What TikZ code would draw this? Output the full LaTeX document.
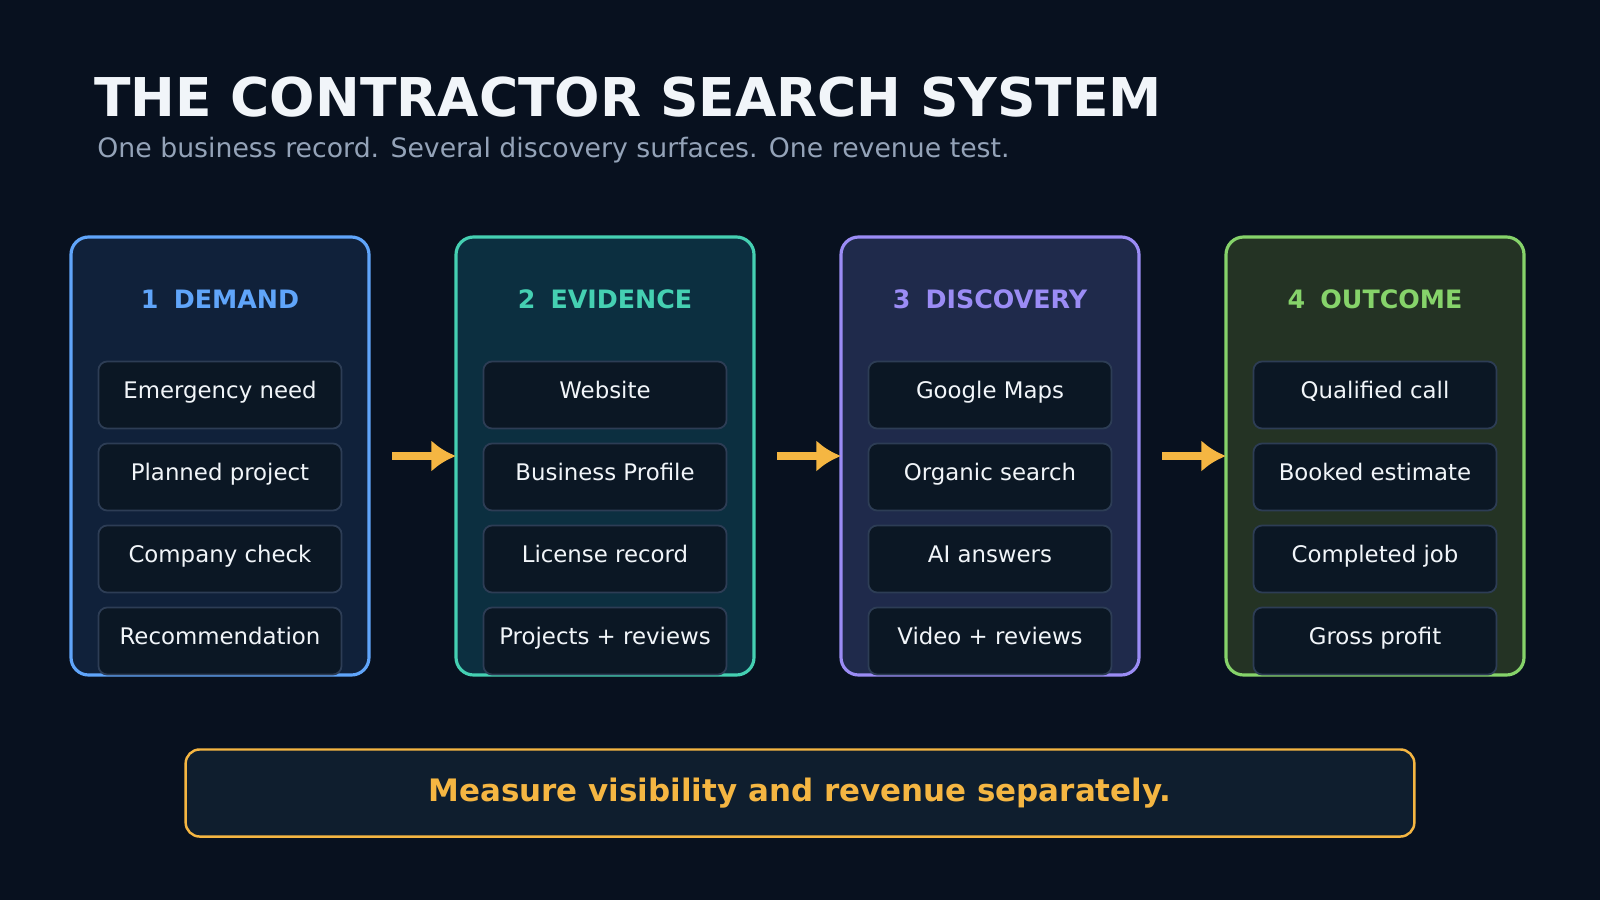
\documentclass[tikz,border=0pt]{standalone}
\usepackage{fontspec}
\setmainfont{DejaVu Sans}
\usetikzlibrary{positioning}
\usetikzlibrary{arrows.meta}
\definecolor{bgc}{HTML}{08111F}
\definecolor{titlec}{HTML}{F1F5F9}
\definecolor{subc}{HTML}{94A3B8}
\definecolor{itemfill}{HTML}{0B1724}
\definecolor{itemdraw}{HTML}{2D3D55}
\definecolor{arrc}{HTML}{F5B642}
\definecolor{bluec}{HTML}{60A5FA}\definecolor{bluef}{HTML}{10213A}
\definecolor{tealc}{HTML}{45D0B2}\definecolor{tealf}{HTML}{0C2F40}
\definecolor{violc}{HTML}{9B8CF5}\definecolor{violf}{HTML}{1F2A4B}
\definecolor{greenc}{HTML}{86D36A}\definecolor{greenf}{HTML}{243324}
\definecolor{notef}{HTML}{0F1E2E}
\tikzset{
  item/.style={draw=itemdraw,fill=itemfill,line width=0.5pt,rounded corners=2.5pt,minimum width=2.43cm,minimum height=0.67cm,inner sep=0pt,text=titlec,font=\fontsize{6.5}{7}\selectfont},
  head/.style={font=\fontsize{7.2}{8}\selectfont\bfseries,text=#1},
  flow/.style={draw=arrc,line width=2.2pt,-{Latex[length=7pt,width=9pt]}}
}
\begin{document}
\begin{tikzpicture}[x=0.01cm,y=-0.01cm]
\fill[bgc] (0,0) rectangle (1600,900);
\node[anchor=west,text=titlec,font=\fontsize{15.2}{17}\selectfont\bfseries] (title) at (82,97) {THE CONTRACTOR SEARCH SYSTEM};
\node[anchor=west,text=subc,font=\fontsize{7.6}{8}\selectfont] (sub) at (85,150) {One business record. Several discovery surfaces. One revenue test.};
\foreach \n/\x/\c/\f/\h/\a/\b/\cc/\d in {
  1/71/bluec/bluef/DEMAND/Emergency need/Planned project/Company check/Recommendation,
  2/456/tealc/tealf/EVIDENCE/Website/Business Profile/License record/Projects + reviews,
  3/841/violc/violf/DISCOVERY/Google Maps/Organic search/AI answers/Video + reviews,
  4/1226/greenc/greenf/OUTCOME/Qualified call/Booked estimate/Completed job/Gross profit}{
  \draw[draw=\c,fill=\f,line width=0.9pt,rounded corners=5pt] (\x,237) rectangle ++(298,438);
  \coordinate (col\n) at (\x+149,456);
  \node[head=\c] (head\n) at (\x+149,299) {\n\hspace{0.6em}\h};
  \node[item,text depth=0.5ex] (i\n a) at (\x+149,395) {\a};
  \node[item,text depth=0.5ex] (i\n b) at (\x+149,477) {\b};
  \node[item,text depth=0.5ex] (i\n c) at (\x+149,559) {\cc};
  \node[item,text depth=0.5ex] (i\n d) at (\x+149,641) {\d};
}
\foreach \x/\n in {392/1,777/2,1162/3}{
  \coordinate (s\n) at (\x,456);
  \coordinate (t\n) at (\x+64,456);
  \draw[flow] (s\n) -- (t\n);
}
\node[draw=arrc,fill=notef,line width=0.7pt,rounded corners=4pt,minimum width=12.28cm,minimum height=0.87cm,text=arrc,font=\fontsize{8.8}{10}\selectfont\bfseries] (note) at (800,793) {Measure visibility and revenue separately.};
\end{tikzpicture}
\end{document}
